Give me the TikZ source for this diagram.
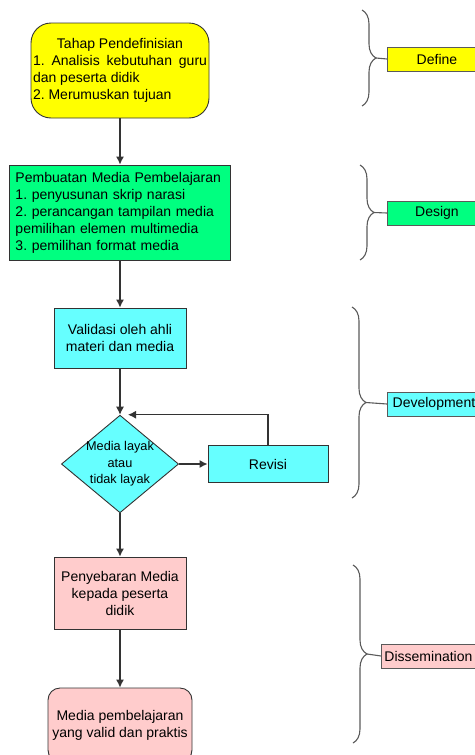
\documentclass[tikz,border=0pt]{standalone}
\usepackage{fontspec}
\setmainfont{Liberation Sans}
\usepackage{tikz}
\usetikzlibrary{arrows.meta,shapes.geometric,positioning,decorations.pathreplacing}
\usepackage{xcolor}
\frenchspacing
\definecolor{rdyellow}{RGB}{255,255,0}
\definecolor{rdgreen}{RGB}{0,255,128}
\definecolor{rdcyan}{RGB}{102,255,255}
\definecolor{rdpink}{RGB}{255,204,204}
\definecolor{rdline}{RGB}{51,51,51}
\definecolor{rdgray}{RGB}{90,90,90}
\tikzstyle{arrow} = [line width=1.1pt,-{Latex[length=8pt,width=8pt]},color=rdline]
\tikzstyle{phase} = [rectangle, draw=rdgray, line width=0.9pt, minimum height=24pt, inner sep=3pt, font=\fontsize{14}{17}\selectfont]

\begin{document}
\begin{tikzpicture}[x=1pt, y=-1pt,
    stage/.style={rectangle, draw=rdline, line width=0.9pt, font=\fontsize{14}{17}\selectfont, align=center, inner sep=3pt},
    bracket/.style={decorate, decoration={brace, amplitude=14pt}, draw=rdgray, line width=1.1pt}]
\useasboundingbox (0,0) rectangle (474,755);

% Define
\node[stage, rounded corners=20pt, fill=rdyellow, text width=174pt, inner xsep=2pt, minimum height=95pt, align=justify] (define) at (120,70.5) {{\centering Tahap Pendefinisian\par}1. Analisis kebutuhan guru dan peserta didik\par 2. Merumuskan tujuan};

% Design
\node[stage, fill=rdgreen, text width=209pt, inner xsep=6pt, minimum height=95pt, align=left] (design) at (120,212.5) {Pembuatan Media Pembelajaran\\1. penyusunan skrip narasi\\2. perancangan tampilan media\\pemilihan elemen multimedia\\3. pemilihan format media};

% Development
\node[stage, fill=rdcyan, minimum width=132pt, minimum height=60pt] (validasi) at (120,338) {Validasi oleh ahli\\materi dan media};
\node[diamond, draw=rdline, line width=0.9pt, fill=rdcyan, aspect=1.2, inner sep=-1pt, font=\fontsize{12.7}{16.5}\selectfont, align=center] (layak) at (120,464) {Media layak\\atau\\tidak layak};
\node[stage, fill=rdcyan, minimum width=120pt, minimum height=37pt] (revisi) at (268,464) {Revisi};

% Dissemination
\node[stage, fill=rdpink, minimum width=132pt, minimum height=72pt] (sebar) at (120,593) {Penyebaran Media\\kepada peserta\\didik};
\node[stage, rounded corners=12pt, fill=rdpink, minimum width=144pt, minimum height=74pt] (produk) at (120,725) {Media pembelajaran\\yang valid dan praktis};

% Flow
\draw[arrow] (define) -- (design);
\draw[arrow] (design) -- (validasi);
\draw[arrow] (validasi) -- (layak);
\draw[arrow] (layak) -- (revisi);
\draw[arrow] (revisi.north) |- ([xshift=8pt]layak.north);
\draw[arrow] (layak) -- (sebar);
\draw[arrow] (sebar) -- (produk);

% Phase brackets
\coordinate (defTop) at (362,10);
\coordinate (defBot) at (362,106);
\coordinate (defTip) at (376,58);
\coordinate (desTop) at (360,165);
\coordinate (desBot) at (360,260);
\coordinate (desTip) at (374,212.5);
\coordinate (devTop) at (352,307);
\coordinate (devBot) at (352,498);
\coordinate (devTip) at (366,402.5);
\coordinate (disTop) at (353,565);
\coordinate (disBot) at (353,743);
\coordinate (disTip) at (367,654);

\draw[bracket] (defTop) -- (defBot);
\draw[bracket] (desTop) -- (desBot);
\draw[bracket] (devTop) -- (devBot);
\draw[bracket] (disTop) -- (disBot);

% Phase labels
\node[phase, fill=rdyellow, minimum width=99pt, anchor=west] (defLab) at (387,59) {Define};
\node[phase, fill=rdgreen, minimum width=99pt, anchor=west] (desLab) at (387,213) {Design};
\node[phase, fill=rdcyan, minimum width=93pt, anchor=west] (devLab) at (387,404) {Development};
\node[phase, fill=rdpink, minimum width=94pt, anchor=west] (disLab) at (381,656) {Dissemination};

\draw[rdgray, line width=1.1pt] (defTip) -- (defLab.west);
\draw[rdgray, line width=1.1pt] (desTip) -- (desLab.west);
\draw[rdgray, line width=1.1pt] (devTip) -- (devLab.west);
\draw[rdgray, line width=1.1pt] (disTip) -- (disLab.west);
\end{tikzpicture}
\end{document}
